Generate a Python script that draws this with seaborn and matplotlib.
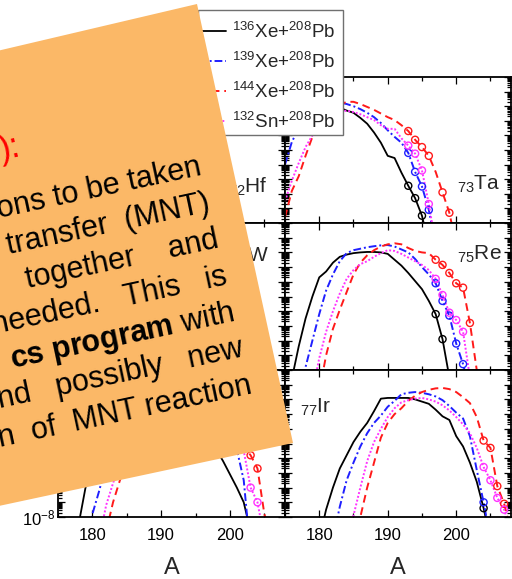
import numpy as np
import matplotlib
matplotlib.use("Agg")
import matplotlib.pyplot as plt
import seaborn as sns
from matplotlib.lines import Line2D
from matplotlib.patches import Polygon, Rectangle
from matplotlib.ticker import LogLocator, FuncFormatter, MultipleLocator, NullFormatter

# (A, log10 sigma); sigma in mb, log scale 1e-8 .. 1e2
# series keys: 136 = 136Xe, 139 = 139Xe, 144 = 144Xe, 132 = 132Sn

# 72Hf (top left, hidden under the box)
hf_136 = [(175, -0.3), (176, -0.1), (177, 0.0), (178, 0.0), (179, -0.1), (180, -0.3), (181, -0.6), (182, -1.0), (183, -1.4), (184, -1.9), (185, -2.4), (186, -3.0), (187, -3.6), (188, -4.3), (189, -5.0), (190, -5.8), (191, -6.7), (192, -7.6), (193, -9.0)]
hf_139 = [(175, -0.5), (176, -0.2), (177, 0.0), (178, 0.1), (179, 0.1), (180, 0.0), (181, -0.2), (182, -0.5), (183, -0.9), (184, -1.3), (185, -1.8), (186, -2.3), (187, -2.9), (188, -3.5), (189, -4.2), (190, -4.9), (191, -5.7), (192, -6.6), (193, -7.6), (194, -9.0)]
hf_132 = [(175, -1.5), (176, -1.0), (177, -0.6), (178, -0.3), (179, -0.2), (180, -0.2), (181, -0.3), (182, -0.5), (183, -0.8), (184, -1.1), (185, -1.5), (186, -2.0), (187, -2.5), (188, -3.0), (189, -3.6), (190, -4.3), (191, -5.0), (192, -5.8), (193, -6.7), (194, -7.7), (195, -9.0)]
hf_144 = [(175, -2.0), (176, -1.3), (177, -0.8), (178, -0.4), (179, -0.2), (180, -0.1), (181, -0.1), (182, -0.2), (183, -0.4), (184, -0.7), (185, -1.0), (186, -1.4), (187, -1.9), (188, -2.4), (189, -2.9), (190, -3.5), (191, -4.1), (192, -4.8), (193, -5.5), (194, -6.3), (195, -7.2), (196, -8.2), (197, -9.5)]

# 73Ta (top right)
ta_136 = [(175, 0.35), (176, 0.4), (177, 0.45), (178, 0.5), (179, 0.5), (180, 0.45), (181, 0.3), (182, 0.1), (183, -0.1), (184, -0.3), (185, -0.45), (186, -0.8), (187, -1.2), (188, -1.8), (189, -2.5), (190, -3.4), (191, -3.55), (192, -4.55), (193, -5.45), (194, -6.3), (195, -7.5), (196, -9.5)]
ta_139 = [(175, -4.0), (176, -2.45), (177, -1.5), (178, -0.8), (179, -0.4), (180, -0.1), (181, 0.1), (182, 0.2), (183, 0.25), (184, 0.15), (185, 0.0), (186, -0.2), (187, -0.45), (188, -0.75), (189, -1.15), (190, -1.65), (191, -2.1), (192, -2.5), (193, -3.2), (194, -4.5), (195, -5.5), (196, -7.1), (197, -9.5)]
ta_132 = [(175, -6.5), (176, -5.1), (177, -3.9), (178, -2.8), (179, -2.0), (180, -1.4), (181, -0.9), (182, -0.6), (183, -0.4), (184, -0.3), (185, -0.4), (186, -0.55), (187, -0.75), (188, -0.95), (189, -1.3), (190, -1.55), (191, -1.55), (192, -2.2), (193, -2.7), (194, -3.25), (195, -4.4), (196, -6.7), (197, -9.5)]
ta_144 = [(175, -7.6), (176, -5.8), (177, -4.8), (178, -3.4), (179, -2.1), (180, -1.3), (181, -0.7), (182, -0.2), (183, 0.1), (184, 0.3), (185, 0.3), (186, 0.15), (187, -0.05), (188, -0.25), (189, -0.5), (190, -0.75), (191, -0.95), (192, -1.3), (193, -1.7), (194, -2.3), (195, -2.8), (196, -3.4), (197, -4.5), (198, -5.9), (199, -7.3), (200, -9.5)]

# 74W (middle left, hidden)
w_136 = [(175, -2.5), (176, -1.6), (177, -0.9), (178, -0.4), (179, -0.1), (180, 0.0), (181, 0.0), (182, -0.1), (183, -0.3), (184, -0.6), (185, -0.9), (186, -1.3), (187, -1.8), (188, -2.3), (189, -2.9), (190, -3.5), (191, -4.2), (192, -5.0), (193, -5.9), (194, -6.9), (195, -8.0), (196, -9.5)]
w_139 = [(175, -3.8), (176, -2.6), (177, -1.7), (178, -1.0), (179, -0.5), (180, -0.1), (181, 0.1), (182, 0.2), (183, 0.2), (184, 0.1), (185, -0.1), (186, -0.4), (187, -0.8), (188, -1.2), (189, -1.7), (190, -2.2), (191, -2.8), (192, -3.4), (193, -4.1), (194, -4.9), (195, -5.8), (196, -6.8), (197, -7.9), (198, -9.5)]
w_132 = [(175, -5.5), (176, -4.2), (177, -3.1), (178, -2.2), (179, -1.5), (180, -1.0), (181, -0.6), (182, -0.4), (183, -0.3), (184, -0.3), (185, -0.4), (186, -0.6), (187, -0.9), (188, -1.2), (189, -1.6), (190, -2.0), (191, -2.5), (192, -3.0), (193, -3.6), (194, -4.3), (195, -5.1), (196, -6.0), (197, -7.0), (198, -8.2), (199, -9.5)]
w_144 = [(175, -6.5), (176, -5.0), (177, -3.7), (178, -2.6), (179, -1.7), (180, -1.0), (181, -0.5), (182, -0.2), (183, 0.0), (184, 0.1), (185, 0.1), (186, 0.0), (187, -0.2), (188, -0.5), (189, -0.8), (190, -1.2), (191, -1.6), (192, -2.1), (193, -2.6), (194, -3.2), (195, -3.9), (196, -4.7), (197, -5.6), (198, -6.6), (199, -7.7), (200, -9.0)]

# 75Re (middle right)
re_136 = [(175, -10.5), (176, -8.6), (177, -6.4), (178, -4.5), (179, -3.0), (180, -1.7), (181, -1.3), (182, -0.7), (183, -0.3), (184, -0.15), (185, -0.05), (186, 0.0), (187, 0.03), (188, 0.03), (189, 0.0), (190, -0.1), (191, -0.5), (192, -0.9), (193, -1.4), (194, -1.95), (195, -2.5), (196, -3.3), (197, -4.2), (198, -5.9), (199, -8.5)]
re_139 = [(177, -9.5), (178, -7.8), (179, -6.0), (180, -4.2), (181, -2.6), (182, -1.5), (183, -0.6), (184, -0.05), (185, 0.15), (186, 0.25), (187, 0.35), (188, 0.42), (189, 0.48), (190, 0.5), (191, 0.4), (192, 0.2), (193, 0.0), (194, -0.45), (195, -1.0), (196, -1.5), (197, -2.1), (198, -3.3), (199, -4.3), (200, -6.2), (201, -7.6), (202, -9.5)]
re_132 = [(179, -9.5), (180, -7.2), (181, -5.4), (182, -4.0), (183, -2.8), (184, -1.8), (185, -1.2), (186, -0.8), (187, -0.6), (188, -0.3), (189, -0.05), (190, 0.15), (191, 0.1), (192, -0.1), (193, -0.35), (194, -0.6), (195, -0.85), (196, -1.2), (197, -1.8), (198, -2.9), (199, -4.1), (200, -4.6), (201, -5.4), (202, -8.5)]
re_144 = [(180, -9.5), (181, -7.0), (182, -5.2), (183, -3.9), (184, -2.7), (185, -1.5), (186, -0.7), (187, -0.2), (188, 0.15), (189, 0.4), (190, 0.55), (191, 0.62), (192, 0.55), (193, 0.3), (194, 0.1), (195, 0.0), (196, -0.05), (197, -0.5), (198, -0.85), (199, -1.4), (200, -2.1), (201, -2.4), (202, -4.8), (203, -8.0), (204, -9.5)]

# 76Os (bottom left)
os_136 = [(178, -8.5), (179, -6.0), (180, -4.5), (181, -3.3), (182, -2.4), (183, -1.6), (184, -1.0), (185, -0.5), (186, -0.2), (187, 0.0), (188, 0.1), (189, 0.1), (190, 0.0), (191, -0.2), (192, -0.5), (193, -0.8), (194, -1.2), (195, -1.6), (196, -2.1), (197, -2.7), (198, -3.4), (199, -4.2), (200, -5.1), (201, -6.0), (202, -7.0), (203, -9.0)]
os_139 = [(179, -9.8), (180, -7.8), (181, -6.2), (182, -4.4), (183, -3.2), (184, -2.2), (185, -1.5), (186, -0.9), (187, -0.5), (188, -0.2), (189, 0.0), (190, 0.1), (191, 0.1), (192, 0.0), (193, -0.2), (194, -0.5), (195, -0.9), (196, -1.3), (197, -1.7), (198, -2.2), (199, -2.6), (200, -3.0), (201, -3.4), (202, -5.5), (203, -10.5)]
os_132 = [(181, -9.5), (182, -7.2), (183, -5.7), (184, -4.3), (185, -3.2), (186, -2.3), (187, -1.6), (188, -1.0), (189, -0.6), (190, -0.3), (191, -0.1), (192, 0.0), (193, -0.1), (194, -0.3), (195, -0.6), (196, -0.9), (197, -1.3), (198, -1.7), (199, -2.1), (200, -2.6), (201, -3.0), (202, -3.5), (203, -6.0), (204, -7.0), (205, -9.5)]
os_144 = [(182, -9.0), (183, -7.0), (184, -5.5), (185, -4.2), (186, -3.1), (187, -2.2), (188, -1.5), (189, -0.9), (190, -0.5), (191, -0.2), (192, 0.0), (193, 0.1), (194, 0.1), (195, 0.0), (196, -0.2), (197, -0.5), (198, -0.9), (199, -1.4), (200, -2.0), (201, -2.6), (202, -3.2), (203, -3.8), (204, -4.7), (205, -7.8), (206, -9.5)]

# 77Ir (bottom right)
ir_136 = [(180, -9.5), (181, -7.5), (182, -6.0), (183, -4.7), (184, -3.8), (185, -2.9), (186, -2.2), (187, -1.6), (188, -0.8), (189, 0.05), (190, 0.1), (191, 0.1), (192, 0.1), (193, 0.1), (194, 0.0), (195, -0.15), (196, -0.3), (197, -0.7), (198, -1.15), (199, -1.4), (200, -2.5), (201, -3.2), (202, -4.3), (203, -5.6), (204, -7.4), (205, -9.5)]
ir_139 = [(182, -9.5), (183, -7.3), (184, -5.5), (185, -4.3), (186, -3.2), (187, -2.3), (188, -1.6), (189, -1.1), (190, -0.5), (191, -0.1), (192, 0.35), (193, 0.45), (194, 0.5), (195, 0.45), (196, 0.35), (197, 0.2), (198, -0.05), (199, -0.45), (200, -0.9), (201, -1.3), (202, -2.5), (203, -4.8), (204, -7.0), (205, -9.5)]
ir_132 = [(184, -9.5), (185, -7.9), (186, -6.0), (187, -4.2), (188, -2.9), (189, -2.0), (190, -1.2), (191, -0.6), (192, -0.2), (193, -0.05), (194, 0.05), (195, 0.1), (196, 0.0), (197, -0.15), (198, -0.4), (199, -0.75), (200, -1.2), (201, -1.7), (202, -2.3), (203, -3.3), (204, -4.6), (205, -5.5), (206, -6.7), (207, -7.5), (208, -9.0)]
ir_144 = [(185, -9.5), (186, -8.0), (187, -6.0), (188, -4.3), (189, -2.6), (190, -1.6), (191, -1.0), (192, -0.6), (193, -0.1), (194, 0.25), (195, 0.5), (196, 0.65), (197, 0.75), (198, 0.78), (199, 0.7), (200, 0.5), (201, 0.15), (202, -0.25), (203, -1.2), (204, -2.8), (205, -3.3), (206, -5.9), (207, -7.1), (208, -9.0)]

# mass numbers marked with open circles (new isotopes)
new_isotopes = {
    "ta": {"136": [193, 194, 195], "139": [193, 194, 195, 196], "132": [193, 194, 195, 196], "144": [193, 194, 195, 196, 198, 199]},
    "re": {"136": [197, 198], "139": [197, 198, 199, 200, 201], "132": [197, 198, 199, 200, 201], "144": [197, 198, 199, 200, 201, 202]},
    "os": {"132": [203, 204], "144": [203, 204]},
    "ir": {"136": [204], "139": [204], "132": [204, 205, 206, 207], "144": [204, 205, 206, 207]},
}

panel_labels = {"hf": r"$_{72}$Hf", "ta": r"$_{73}$Ta", "w": r"$_{74}$W", "re": r"$_{75}$Re", "os": r"$_{76}$Os", "ir": r"$_{77}$Ir"}
legend_labels = [r"$^{136}$Xe+$^{208}$Pb", r"$^{139}$Xe+$^{208}$Pb", r"$^{144}$Xe+$^{208}$Pb", r"$^{132}$Sn+$^{208}$Pb"]

box_lines = ["ons to be taken", "transfer  (MNT)", "together    and", "needed.   This   is",
             r"$\mathbf{cs\ program}$ with", "nd   possibly   new", "n  of  MNT reaction"]

sns.set_style("ticks")
plt.rcParams["font.family"] = ["Liberation Sans", "DejaVu Sans"]
plt.rcParams["mathtext.fontset"] = "custom"
plt.rcParams["mathtext.rm"] = "Liberation Sans"
plt.rcParams["mathtext.it"] = "Liberation Sans:italic"
plt.rcParams["mathtext.bf"] = "Liberation Sans:bold"

W, H = 512, 579
fig = plt.figure(figsize=(W / 100, H / 100), dpi=100)
fig.patch.set_facecolor("white")

def fx(x):
    return x / W

def fy(y):
    return 1 - y / H

styles = {
    "136": dict(color="black", linestyle="-", lw=1.3),
    "139": dict(color="#1f1fff", linestyle=(0, (4, 1.5, 1, 1.5)), lw=1.4),
    "144": dict(color="#ff1a1a", linestyle=(0, (4, 2.5)), lw=1.4),
    "132": dict(color="#ff33ff", linestyle=(0, (1, 1)), lw=1.4),
}

panels = {
    "hf": (hf_136, hf_139, hf_144, hf_132),
    "ta": (ta_136, ta_139, ta_144, ta_132),
    "w": (w_136, w_139, w_144, w_132),
    "re": (re_136, re_139, re_144, re_132),
    "os": (os_136, os_139, os_144, os_132),
    "ir": (ir_136, ir_139, ir_144, ir_132),
}

# axes rectangles in pixels: left, top, right, bottom
rects = {
    "hf": (58, 77, 285, 223), "ta": (285, 77, 511, 223),
    "w": (58, 223, 285, 370), "re": (285, 223, 511, 370),
    "os": (58, 370, 285, 517), "ir": (285, 370, 511, 517),
}
label_pos = {"hf": (0.75, 0.21), "ta": (0.76, 0.225), "w": (0.76, 0.735),
             "re": (0.76, 0.75), "os": (0.76, 0.74), "ir": (0.066, 0.71)}


def y_fmt(v, pos):
    e = int(round(np.log10(v)))
    return r"$10^{%d}$" % e if (e % 2 == 0 and e < 2) else ""


for name, series in panels.items():
    l, t, r, b = rects[name]
    ax = fig.add_axes([fx(l), fy(b), fx(r) - fx(l), fy(t) - fy(b)])
    ax.set_yscale("log")
    for key, pts in zip(["136", "139", "144", "132"], series):
        st = styles[key]
        A = [p[0] for p in pts]
        sig = [10 ** p[1] for p in pts]
        sns.lineplot(x=A, y=sig, ax=ax, color=st["color"], linestyle=st["linestyle"],
                     linewidth=st["lw"], estimator=None, sort=False, legend=False)
        marks = new_isotopes.get(name, {}).get(key, [])
        if marks:
            lookup = dict(pts)
            sns.scatterplot(x=marks, y=[10 ** lookup[m] for m in marks], ax=ax,
                            marker="o", s=26, facecolors="none", edgecolor=st["color"],
                            linewidth=1.0, legend=False, zorder=3)
    ax.set_xlim(175, 208)
    ax.set_ylim(1e-8, 1e2)
    ax.xaxis.set_major_locator(MultipleLocator(10))
    ax.xaxis.set_minor_locator(MultipleLocator(5))
    ax.yaxis.set_major_locator(LogLocator(base=10, numticks=20))
    ax.yaxis.set_minor_locator(LogLocator(base=10, subs=np.arange(2, 10), numticks=20))
    ax.yaxis.set_minor_formatter(NullFormatter())
    ax.tick_params(which="both", direction="in", top=True, right=True, width=0.9,
                   labelsize=12, colors="black")
    ax.tick_params(which="major", length=5)
    ax.tick_params(which="minor", length=3)
    ax.tick_params(axis="x", pad=8)
    ax.tick_params(axis="y", pad=2)
    for sp in ax.spines.values():
        sp.set_linewidth(1.3)
        sp.set_color("black")
    if name in ("hf", "w", "os"):
        ax.yaxis.set_major_formatter(FuncFormatter(y_fmt))
    else:
        ax.set_yticklabels([])
    if name in ("os", "ir"):
        ax.set_xlabel("A", fontsize=17, labelpad=10)
    else:
        ax.set_xticklabels([])
        ax.set_xlabel("")
    ax.set_ylabel("")
    ax.text(*label_pos[name], panel_labels[name], transform=ax.transAxes,
            fontsize=15, ha="left", va="baseline")

# legend: square grey frame drawn separately, entries placed inside it
frame = Rectangle((fx(198), fy(135)), fx(343) - fx(198), fy(10) - fy(135), transform=fig.transFigure,
                  facecolor="white", edgecolor="#707070", linewidth=1.0, zorder=7)
fig.add_artist(frame)
handles = [Line2D([], [], color=styles[k]["color"], linestyle=styles[k]["linestyle"],
                  lw=styles[k]["lw"]) for k in ["136", "139", "144", "132"]]
leg = fig.legend(handles, legend_labels, loc="upper left", bbox_to_anchor=(fx(197), fy(20)),
                 borderaxespad=0, fontsize=13.5, frameon=False,
                 handlelength=1.45, handletextpad=0.32, labelspacing=0.52, borderpad=0.1)
leg.set_zorder(8)

# rotated orange note box on top of the chart
box = Polygon([(fx(197), fy(4)), (fx(293), fy(443)), (fx(-20), fy(510)), (fx(-20), fy(55))],
              closed=True, transform=fig.transFigure, facecolor="#fbb867", edgecolor="none", zorder=20)
fig.add_artist(box)

fig.text(fx(22), fy(156), "):", color="#ff0000", fontsize=25, rotation=12,
         rotation_mode="anchor", ha="right", va="baseline", zorder=21)
for k, line in enumerate(box_lines):
    xr = 203 + 8.3 * k
    yr = 175 + 36.3 * k
    fig.text(fx(xr), fy(yr), line, color="black", fontsize=22, rotation=12,
             rotation_mode="anchor", ha="right", va="baseline", zorder=21)

fig.savefig("out.png", dpi=100, facecolor="white")
